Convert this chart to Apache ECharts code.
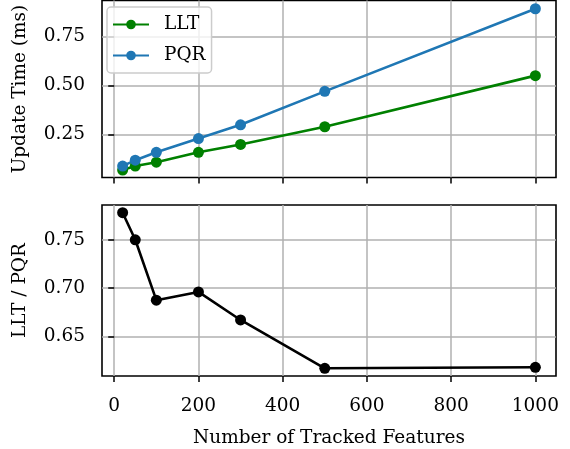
<!DOCTYPE html>
<html><head><meta charset="utf-8">
<script src="https://cdn.jsdelivr.net/npm/echarts@6/dist/echarts.min.js"></script>
<style>html,body{margin:0;padding:0;background:#fff}#c{width:570px;height:449px}</style>
</head><body><div id="c"></div>
<script>
const features = [20, 50, 100, 200, 300, 500, 1000];
const lltTime = [0.07, 0.09, 0.11, 0.16, 0.20, 0.29, 0.55];
const pqrTime = [0.09, 0.12, 0.16, 0.23, 0.30, 0.47, 0.89];
const ratio = [0.778, 0.75, 0.6875, 0.696, 0.667, 0.617, 0.618];
const xTicks = [0, 200, 400, 600, 800, 1000];
const topTicks = [0.25, 0.50, 0.75];
const bottomTicks = [0.65, 0.70, 0.75];

const font = 'DejaVu Serif';
const fs = 18.5;
const pairs = (xs, ys) => xs.map((x, i) => [x, ys[i]]);
const gridLine = {show: true, lineStyle: {color: '#b0b0b0', width: 1.5}};
const tick = (vals) => ({show: true, length: 6, lineStyle: {color: '#000', width: 1.5}, customValues: vals});
function xAxis(idx, showLabels) {
  return {
    type: 'value', gridIndex: idx, min: -29, max: 1049,
    axisLine: {show: false},
    axisTick: tick(xTicks),
    splitLine: gridLine,
    axisLabel: {show: showLabels, customValues: xTicks, fontFamily: font, fontSize: fs, color: '#000', margin: 21,
      formatter: v => String(v)},
    name: showLabels ? 'Number of Tracked Features' : '',
    nameLocation: 'middle', nameGap: 53,
    nameTextStyle: {fontFamily: font, fontSize: fs, color: '#000'}
  };
}
function yAxis(idx, min, max, ticks, name) {
  return {
    type: 'value', gridIndex: idx, min: min, max: max,
    axisLine: {show: false},
    axisTick: tick(ticks),
    splitLine: gridLine,
    axisLabel: {customValues: ticks, fontFamily: font, fontSize: fs, color: '#000', margin: 17,
      formatter: v => v.toFixed(2)},
    name: name, nameLocation: 'middle', nameGap: 72,
    nameTextStyle: {fontFamily: font, fontSize: fs, color: '#000'}
  };
}
const chart = echarts.init(document.getElementById('c'), null, {renderer: 'canvas'});
chart.setOption({
  animation: false,
  backgroundColor: '#fff',
  grid: [
    {left: 102, right: 14, top: 0.5, height: 177, show: true, borderColor: '#000', borderWidth: 1.6, backgroundColor: 'transparent'},
    {left: 102, right: 14, top: 205, height: 177, show: true, borderColor: '#000', borderWidth: 1.6, backgroundColor: 'transparent'}
  ],
  xAxis: [xAxis(0, false), xAxis(1, true)],
  yAxis: [
    yAxis(0, 0.032, 0.932, topTicks, 'Update Time (ms)'),
    yAxis(1, 0.609, 0.786, bottomTicks, 'LLT / PQR')
  ],
  legend: {
    left: 107, top: 7, orient: 'vertical',
    data: ['LLT', 'PQR'],
    itemWidth: 36, itemHeight: 12, itemGap: 12,
    padding: [8, 6, 8, 5],
    backgroundColor: 'rgba(255,255,255,0.8)',
    borderColor: '#cccccc', borderWidth: 1.5, borderRadius: 4,
    textStyle: {fontFamily: font, fontSize: fs, color: '#000', padding: [0, 0, 0, 10]}
  },
  series: [
    {name: 'LLT', type: 'line', xAxisIndex: 0, yAxisIndex: 0, data: pairs(features, lltTime),
     color: '#008000', lineStyle: {width: 2.6}, symbol: 'circle', symbolSize: 11, z: 3},
    {name: 'PQR', type: 'line', xAxisIndex: 0, yAxisIndex: 0, data: pairs(features, pqrTime),
     color: '#1f77b4', lineStyle: {width: 2.6}, symbol: 'circle', symbolSize: 11, z: 3},
    {name: 'ratio', type: 'line', xAxisIndex: 1, yAxisIndex: 1, data: pairs(features, ratio),
     color: '#000', lineStyle: {width: 2.6}, symbol: 'circle', symbolSize: 11, z: 3}
  ]
});
</script></body></html>
